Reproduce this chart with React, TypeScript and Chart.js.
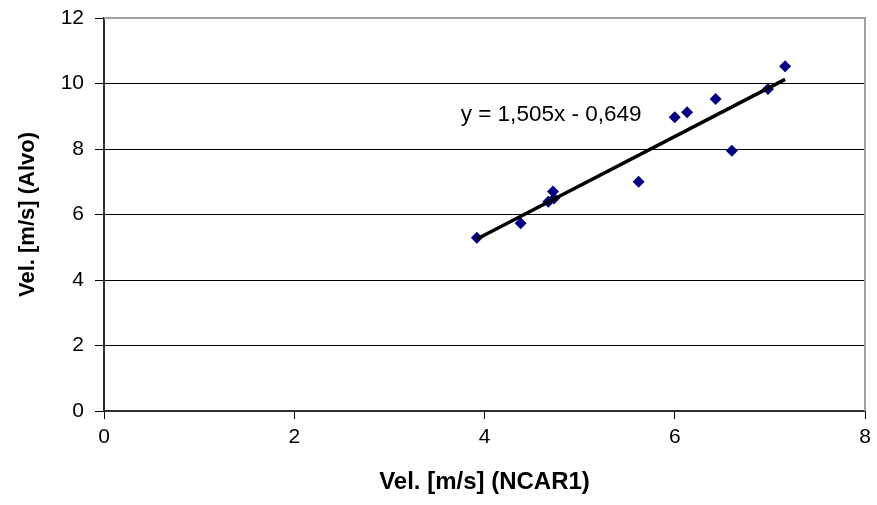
import React, { useEffect, useRef } from "react";
import { Chart, registerables } from "chart.js";

Chart.register(...registerables);

const xValues = [3.92, 4.38, 4.67, 4.72, 4.73, 5.62, 6.0, 6.13, 6.43, 6.6, 6.98, 7.16];
const yValues = [5.29, 5.73, 6.39, 6.7, 6.49, 7.0, 8.97, 9.12, 9.53, 7.95, 9.83, 10.53];
const slope = 1.505;
const intercept = -0.649;
const equationLabel = "y = 1,505x - 0,649";
const xTitle = "Vel. [m/s] (NCAR1)";
const yTitle = "Vel. [m/s] (Alvo)";

const FONT = "'Liberation Sans', Arial, sans-serif";

export default function App() {
  const ref = useRef<HTMLCanvasElement | null>(null);

  useEffect(() => {
    document.body.style.margin = "0";
    const canvas = ref.current;
    if (!canvas) return;
    const pts = xValues.map((x, i) => ({ x, y: yValues[i] }));
    const xMin = Math.min(...xValues);
    const xMax = Math.max(...xValues);
    const trend = [
      { x: xMin, y: slope * xMin + intercept },
      { x: xMax, y: slope * xMax + intercept },
    ];

    const framePlugin = {
      id: "frame",
      afterDatasetsDraw(chart: any) {
        const { ctx, chartArea, scales } = chart;
        ctx.save();
        ctx.strokeStyle = "#a0a0a0";
        ctx.lineWidth = 2;
        ctx.beginPath();
        ctx.moveTo(chartArea.left, chartArea.top);
        ctx.lineTo(chartArea.right, chartArea.top);
        ctx.lineTo(chartArea.right, chartArea.bottom);
        ctx.stroke();
        ctx.font = "22.5px " + FONT;
        ctx.fillStyle = "#000";
        ctx.textAlign = "left";
        ctx.textBaseline = "middle";
        ctx.fillText(equationLabel, scales.x.getPixelForValue(3.75), scales.y.getPixelForValue(9.04));
        ctx.restore();
      },
    };

    const chart = new Chart(canvas, {
      type: "scatter",
      data: {
        datasets: [
          {
            label: "trend",
            data: trend,
            showLine: true,
            borderColor: "#000",
            borderWidth: 3.5,
            pointRadius: 0,
            order: 1,
          },
          {
            label: "data",
            data: pts,
            pointStyle: "rectRot",
            pointRadius: 6,
            backgroundColor: "#000080",
            borderColor: "#000080",
            borderWidth: 0,
            order: 2,
          },
        ],
      },
      plugins: [framePlugin],
      options: {
        animation: false,
        responsive: false,
        maintainAspectRatio: false,
        layout: { padding: { left: 0, right: 12, top: 18, bottom: 0 } },
        plugins: { legend: { display: false }, tooltip: { enabled: false } },
        scales: {
          x: {
            type: "linear",
            min: 0,
            max: 8,
            ticks: {
              stepSize: 2,
              color: "#000",
              padding: 6,
              font: { family: FONT, size: 21 },
            },
            grid: { drawOnChartArea: false, drawTicks: true, tickLength: 8, color: "#000" },
            border: { color: "#303030", width: 2 },
            title: {
              display: true,
              text: xTitle,
              color: "#000",
              font: { family: FONT, size: 24, weight: "bold" },
              padding: { top: 8, bottom: 8 },
            },
            afterFit(scale: any) {
              scale.height = 94;
              scale.paddingLeft = 0;
              scale.paddingRight = 0;
            },
          },
          y: {
            type: "linear",
            min: 0,
            max: 12,
            ticks: {
              stepSize: 2,
              color: "#000",
              padding: 11,
              font: { family: FONT, size: 21 },
            },
            grid: { color: "#000", lineWidth: 1, drawTicks: true, tickLength: 9 },
            border: { color: "#303030", width: 2 },
            title: {
              display: true,
              text: yTitle,
              color: "#000",
              font: { family: FONT, size: 22, weight: "bold" },
              padding: { top: 15, bottom: 15 },
            },
            afterFit(scale: any) {
              scale.width = 104;
              scale.paddingTop = 0;
              scale.paddingBottom = 0;
            },
          },
        },
      },
    } as any);
    return () => chart.destroy();
  }, []);

  return (
    <div style={{ position: "absolute", left: 0, top: 0, width: 877, height: 505 }}>
      <canvas ref={ref} width={877} height={505} style={{ width: 877, height: 505 }} />
    </div>
  );
}
